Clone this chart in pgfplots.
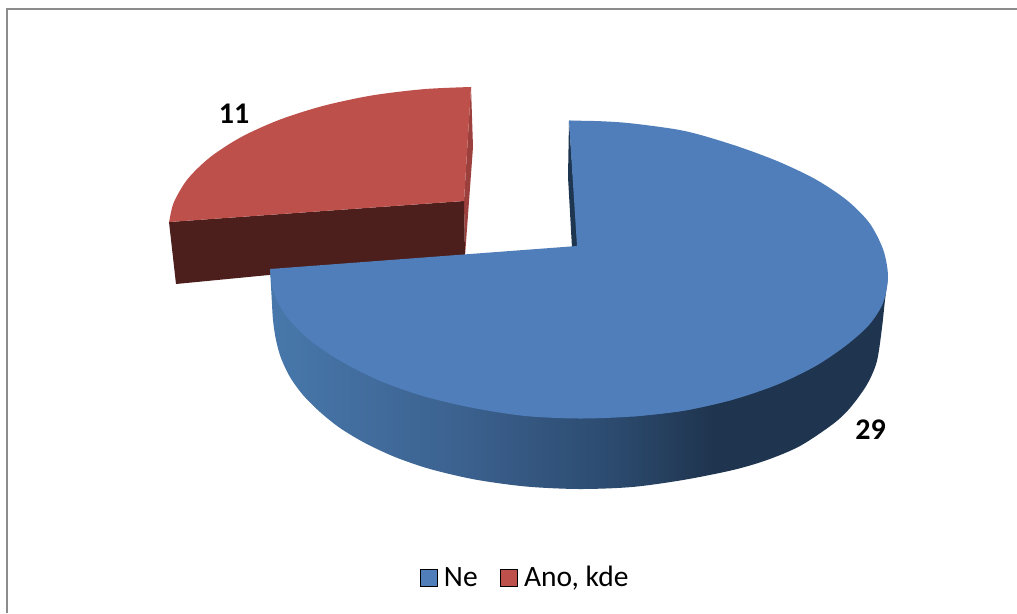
\documentclass[border=0pt]{standalone}
\usepackage{fontspec}
\setmainfont{Carlito}
\usepackage{pgfplots}
\pgfplotsset{compat=1.18}

\definecolor{blueTop}{HTML}{4F7EBA}
\definecolor{redTop}{HTML}{BE504C}
\definecolor{redDark}{HTML}{4C1E1C}
\definecolor{redInner}{HTML}{9C403D}
\definecolor{blueDark}{HTML}{1E3650}
\definecolor{frameGrey}{HTML}{8C8C8C}

% Lighting across the rim of the large slice
\pgfdeclarehorizontalshading{rimshade}{100bp}{
  rgb(0bp)=(0.28,0.47,0.67);
  rgb(25bp)=(0.28,0.47,0.67);
  rgb(40bp)=(0.235,0.385,0.565);
  rgb(53bp)=(0.17,0.29,0.43);
  rgb(61bp)=(0.122,0.204,0.306);
  rgb(100bp)=(0.122,0.204,0.306)}

\begin{document}
\begin{tikzpicture}
\begin{axis}[
  width=1017pt, height=613pt, scale only axis,
  xmin=0, xmax=1017, ymin=0, ymax=613, y dir=reverse,
  hide axis, clip=true,
  legend columns=2,
  legend style={draw=none, fill=none, font=\fontsize{29.5}{31}\selectfont,
    at={(axis cs:525,577.5)}, anchor=center, inner sep=0pt, outer sep=0pt,
    /tikz/every odd column/.append style={column sep=5pt},
    /tikz/every even column/.append style={column sep=20pt}},
  legend image code/.code={\fill[#1] (0pt,-8.5pt) rectangle (17pt,8.5pt);},
]
\addlegendimage{fill=blueTop}
\addlegendentry{Ne}
\addlegendimage{fill=redTop}
\addlegendentry{Ano, kde}

% Page background
\addplot[forget plot, draw=none, fill=white] coordinates {(0,0) (1017,0) (1017,613) (0,613) (0,0)};

% Chart frame: top and left edges
\addplot[forget plot, frameGrey, line width=2pt] coordinates {(7,613) (7,9) (1017,9)};

% Detached small slice: inner wall, front wall, top
\addplot[forget plot, draw=none, fill=redInner] coordinates {
  (471,87) (473,147) (465,256) (464,201) (471,87)};
\addplot[forget plot, draw=none, fill=redDark] coordinates {
  (169,222) (464,201) (465,256) (176,284) (169,222)};
\addplot[forget plot, draw=none, fill=redTop, smooth] coordinates {
  (169.2,222) (173.7,202.7) (187.6,179.1) (210.4,157) (241.3,137) (279.4,119.8)
  (323.5,105.8) (372.3,95.4) (424.3,89.1) (471,87)};
\addplot[forget plot, draw=none, fill=redTop] coordinates {
  (169.2,222) (210,159) (279,122) (372,97) (471,87) (464,201) (169.2,222)};

% Large slice: inner wall sliver
\addplot[forget plot, draw=none, fill=blueDark] coordinates {
  (569,121) (568,177) (572,248) (578,248) (569,121)};

% Large slice: outer rim
\addplot[forget plot, draw=none, shading=rimshade, smooth] coordinates {
  (270,269) (271.5,295) (273,320) (276,340) (281,358) (290,377) (303,395) (320,412)
  (340,428) (365,443) (395,457) (430,469) (475,479.5) (526,486.5) (579,489) (632,487) (683,480)
  (733,470) (767,460) (800,446) (833,424) (850,408) (866.7,385) (876.7,362)
  (881.7,330) (885,300) (888,277)};

% Large slice: top, as two overlapping arcs and the body between them
\addplot[forget plot, draw=none, fill=blueTop, smooth] coordinates {
  (569,120.6) (600,121.2) (632.7,123.5) (684.7,131) (733.5,145) (777,161) (815,179)
  (846.6,200) (869.4,223) (883.3,250) (888,277) (883,303) (869,325) (846,345.5)
  (815.7,366) (777.6,384.5) (733.5,399.5) (684.7,410.5) (632.7,416.5)};
\addplot[forget plot, draw=none, fill=blueTop, smooth] coordinates {
  (733.5,399.5) (684.7,410.5) (632.7,416.5) (579,418.5)
  (525.3,416) (473.3,408) (424.5,396.5) (380.4,381) (342.3,362) (311.4,341.5)
  (288.6,319) (276.7,300) (272,285) (270,269)};
\addplot[forget plot, draw=none, fill=blueTop] coordinates {
  (569,120.6) (577,246) (270,269) (342,358) (473,404) (632,413) (733,396)
  (846,342) (880,277) (846,203) (733,148) (632,126) (569,120.6)};

% Value labels
\node[font=\bfseries\fontsize{30}{32}\selectfont, text=black] at (axis cs:234,114) {11};
\node[font=\bfseries\fontsize{30}{32}\selectfont, text=black] at (axis cs:870.5,430) {29};
\end{axis}
\end{tikzpicture}
\end{document}
